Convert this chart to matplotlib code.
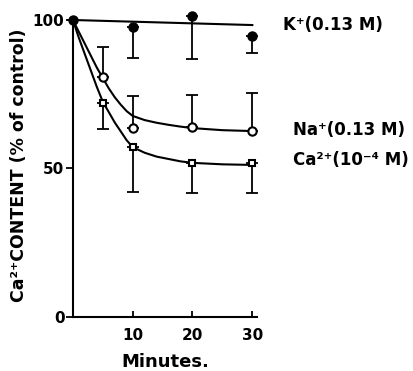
import matplotlib
matplotlib.use("Agg")
import matplotlib.pyplot as plt

plt.rcParams['font.family'] = ['DejaVu Sans']
plt.rcParams['font.weight'] = 'bold'

# measured points (minutes, % of control)
k_t = [0, 10, 20, 30]
k_val = [100, 97.8, 101.3, 94.6]
k_err_low = [0, 10.6, 14.3, 5.7]

na_t = [0, 5, 10, 20, 30]
na_val = [100, 80.8, 63.6, 63.9, 62.6]
na_err_up = [0, 10.2, 10.8, 10.8, 12.8]

ca_t = [0, 5, 10, 20, 30]
ca_val = [100, 72.0, 57.2, 52.0, 51.8]
ca_err_low = [0, 8.7, 15.2, 10.3, 10.1]

# fitted curves
k_fit_t = [0, 30]
k_fit = [100, 98.3]

fit_t = [0, 1, 2, 3, 4, 5, 6, 7, 8, 9, 10, 12, 14, 16, 18, 20, 25, 30]
na_fit = [100, 96, 92, 88, 84, 80.5, 77, 74, 71.5, 69.3, 67.7,
          66.3, 65.4, 64.7, 64.1, 63.6, 62.9, 62.6]
ca_fit = [100, 94, 88.5, 83, 77.5, 72.5, 69, 65.5, 62.5, 59.5, 57.2,
          55.3, 54.0, 53.2, 52.4, 51.9, 51.4, 51.2]

fig = plt.figure(figsize=(4.14, 3.71), dpi=100)
ax = fig.add_axes([0.176, 0.1456, 0.445, 0.8005])

lw = 1.5
ax.plot(k_fit_t, k_fit, 'k-', lw=lw, clip_on=False)
ax.plot(fit_t, na_fit, 'k-', lw=lw, clip_on=False)
ax.plot(fit_t, ca_fit, 'k-', lw=lw, clip_on=False)

ebkw = dict(fmt='none', ecolor='k', elinewidth=1.3, capsize=4, capthick=1.3, clip_on=False)
ax.errorbar(k_t, k_val, yerr=[k_err_low, [0] * len(k_t)], **ebkw)
ax.errorbar(na_t, na_val, yerr=[[0] * len(na_t), na_err_up], **ebkw)
ax.errorbar(ca_t, ca_val, yerr=[ca_err_low, [0] * len(ca_t)], **ebkw)

ax.plot(na_t[1:], na_val[1:], 'o', ms=6, mfc='white', mec='k', mew=1.5, clip_on=False, zorder=5)
ax.plot(ca_t[1:], ca_val[1:], 's', ms=5, mfc='white', mec='k', mew=1.5, clip_on=False, zorder=5)
ax.plot(k_t, k_val, 'o', ms=6.5, color='k', clip_on=False, zorder=6)

ax.set_xlim(0, 30.8)
ax.set_ylim(0, 100)
for s in ['top', 'right']:
    ax.spines[s].set_visible(False)
for s in ['left', 'bottom']:
    ax.spines[s].set_linewidth(1.5)

ax.set_xticks([10, 20, 30])
ax.set_yticks([0, 50, 100])
ax.tick_params(axis='x', direction='in', length=4, width=1.3, pad=8, labelsize=11)
ax.tick_params(axis='y', direction='out', length=5, width=1.3, pad=1, labelsize=11)

ax.set_xlabel('Minutes.', fontsize=13, fontweight='bold', labelpad=7)
fig.text(0.045, 0.555, 'Ca²⁺CONTENT (% of control)', rotation=90,
         ha='center', va='center', fontsize=12.5, fontweight='bold')

fig.text(283 / 414, 1 - 25 / 371, 'K⁺(0.13 M)', ha='left', va='center', fontsize=12, fontweight='bold')
fig.text(293 / 414, 1 - 130 / 371, 'Na⁺(0.13 M)', ha='left', va='center', fontsize=12, fontweight='bold')
fig.text(293 / 414, 1 - 160 / 371, 'Ca²⁺(10⁻⁴ M)', ha='left', va='center', fontsize=12, fontweight='bold')

plt.savefig('out.png', dpi=100)
